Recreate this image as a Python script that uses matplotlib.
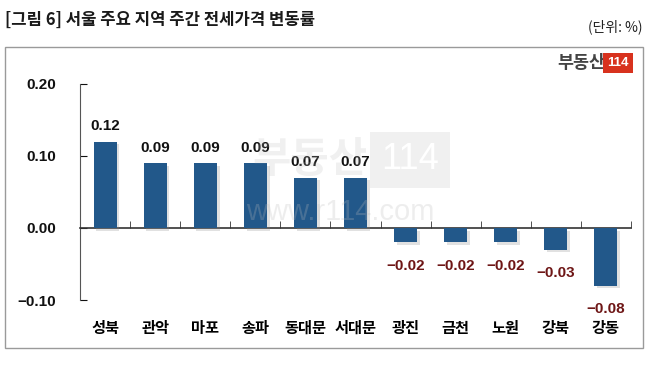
import matplotlib.pyplot as plt
import matplotlib.patheffects as pe
from matplotlib.patches import Rectangle

plt.rcParams['font.family'] = ['Noto Sans CJK KR', 'DejaVu Sans']

# 데이터
regions = ['성북', '관악', '마포', '송파', '동대문', '서대문', '광진', '금천', '노원', '강북', '강동']
change = [0.12, 0.09, 0.09, 0.09, 0.07, 0.07, -0.02, -0.02, -0.02, -0.03, -0.08]
yticks = [-0.10, 0.00, 0.10, 0.20]

bar_color = '#22588A'
neg_color = '#6E1616'
num_font = ['Liberation Sans', 'DejaVu Sans']

fig = plt.figure(figsize=(6.5, 3.68), dpi=100)
fig.patch.set_facecolor('white')

# 바깥 테두리
fig.add_artist(Rectangle((5 / 650, 1 - 348 / 368), 638 / 650, 301 / 368,
                         transform=fig.transFigure, fill=False,
                         edgecolor='#9A9A9A', linewidth=1.0))

fig.text(5 / 650, 1 - 20 / 368, '[그림 6] 서울 주요 지역 주간 전세가격 변동률',
         fontsize=12, fontweight='heavy', color='#1A1A1A', va='center', ha='left')
fig.text(643 / 650, 1 - 27 / 368, '(단위: %)', fontsize=10, color='#222222',
         va='center', ha='right')

# 로고
fig.text(605 / 650, 1 - 63 / 368, '부동산', fontsize=12.5, fontweight='bold',
         color='#444444', va='center', ha='right')
fig.text(618 / 650, 1 - 63 / 368, '114', fontsize=9.5, fontweight='bold', color='white',
         va='center', ha='center', family=num_font,
         bbox=dict(boxstyle='square,pad=0.3', facecolor='#D8321E', edgecolor='none'))

ax = fig.add_axes([80 / 650, 1 - 300 / 368, 551 / 650, 216 / 368])
x = list(range(len(regions)))
bars = ax.bar(x, change, width=0.46, color=bar_color, zorder=3)
for b in bars:
    b.set_path_effects([pe.SimplePatchShadow(offset=(2, -2), shadow_rgbFace='#8A8A8A', alpha=0.25),
                        pe.Normal()])

for xi, v in zip(x, change):
    if v >= 0:
        ax.annotate(f'{v:.2f}', (xi, v), xytext=(0, 6), textcoords='offset points',
                    ha='center', va='bottom', fontsize=11, fontweight='bold',
                    color='#111111', family=num_font)
    else:
        ax.annotate(f'\u2212{abs(v):.2f}', (xi, v), xytext=(0, -12), textcoords='offset points',
                    ha='center', va='top', fontsize=11, fontweight='bold',
                    color=neg_color, family=num_font)

ax.set_xlim(-0.5, len(regions) - 0.5)
ax.set_ylim(-0.10, 0.20)
ax.set_yticks(yticks)
ax.set_yticklabels([f'{t:.2f}'.replace('-', '\u2212') for t in yticks],
                   fontsize=11, fontweight='bold', family=num_font)
ax.tick_params(axis='y', direction='in', length=5, pad=17, colors='#111111')

for s in ['top', 'right']:
    ax.spines[s].set_visible(False)
ax.spines['left'].set_color('#555555')
ax.spines['bottom'].set_position(('data', 0))
ax.spines['bottom'].set_color('#333333')
ax.spines['bottom'].set_linewidth(1.2)

ax.set_xticks(x)
ax.set_xticklabels(regions, fontsize=11, fontweight='bold')
ax.tick_params(axis='x', which='major', length=0, pad=66)
ax.set_xticks([i + 0.5 for i in x], minor=True)
ax.tick_params(axis='x', which='minor', direction='in', length=5, color='#333333')

# 워터마크
fig.text(310 / 650, 1 - 160 / 368, '부동산', fontsize=30, fontweight='bold',
         color='#BBBBBB', alpha=0.22, ha='center', va='center', zorder=10)
fig.text(410 / 650, 1 - 160 / 368, '114', fontsize=26, color='white', ha='center',
         va='center', family=num_font, zorder=10,
         bbox=dict(boxstyle='square,pad=0.3', facecolor='#BBBBBB', alpha=0.22, edgecolor='none'))
fig.text(340 / 650, 1 - 212 / 368, 'www.r114.com', fontsize=21, color='#BBBBBB',
         alpha=0.25, ha='center', va='center', family=num_font, zorder=10)

fig.savefig('out.png', dpi=100)
